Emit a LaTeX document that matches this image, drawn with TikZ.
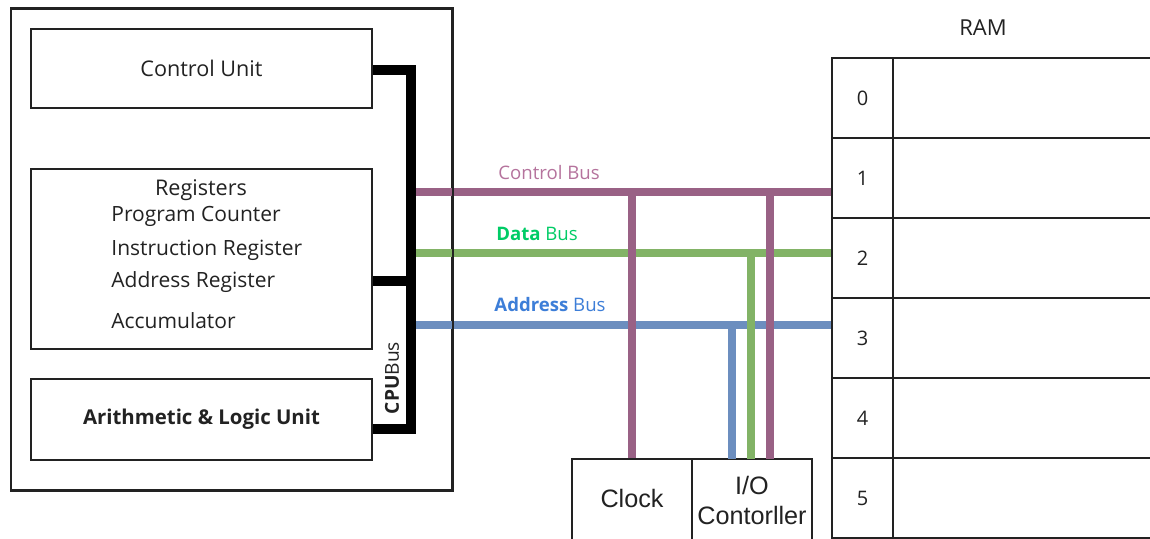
\documentclass[tikz,border=0pt]{standalone}
\usepackage{fontspec}
\setmainfont{Open Sans}
\newfontfamily\arialf{Liberation Sans}
\definecolor{busP}{HTML}{996185}
\definecolor{busG}{HTML}{82B366}
\definecolor{busB}{HTML}{6C8EBF}
\definecolor{txP}{HTML}{B5739D}
\definecolor{txG}{HTML}{00CC66}
\definecolor{txB}{HTML}{3D7ED8}
\definecolor{ink}{HTML}{222222}
\begin{document}
\begin{tikzpicture}[x=0.5pt,y=-0.5pt,
  box/.style={draw=ink,line width=0.75pt,rectangle,inner sep=0pt,text=ink},
  cbus/.style={line width=4.6pt,black,line join=miter},
  ctlbus/.style={line width=4.3pt,busP},
  datbus/.style={line width=4.3pt,busG},
  adrbus/.style={line width=4.3pt,busB},
  lbl/.style={inner sep=0pt,text=ink,font=\fontsize{10.5pt}{12pt}\selectfont},
  buslbl/.style={inner sep=0pt,font=\fontsize{9.3pt}{11pt}\selectfont}]
\clip (0,0) rectangle (1150,539);
\useasboundingbox (0,0) rectangle (1150,539);
\fill[white] (0,0) rectangle (1150,539);

% boxes
\node[box,minimum width=220.5pt,minimum height=240.5pt] (cpu) at (231.5,249.5) {};
\node[box,minimum width=170.5pt,minimum height=39.5pt,font=\fontsize{10.8pt}{12pt}\selectfont] (cu) at (201.5,68.5) {Control Unit};
\node[box,minimum width=170.5pt,minimum height=90pt] (reg) at (201.5,259) {};
\node[box,minimum width=170.5pt,minimum height=40.5pt,font=\fontsize{10.2pt}{12pt}\selectfont\bfseries] (alu) at (201.5,419.5) {Arithmetic \& Logic Unit};

\node[lbl,font=\fontsize{10.8pt}{12pt}\selectfont] (regt) at (201,190) {Registers};
\node[lbl,anchor=west] (pc) at (111,216.5) {Program Counter};
\node[lbl,anchor=west] (ir) at (111,250.5) {Instruction Register};
\node[lbl,anchor=west] (ar) at (111,282.5) {Address Register};
\node[lbl,anchor=west] (acc) at (111,321) {Accumulator};

% clock and io
\node[box,minimum width=60pt,minimum height=41pt,font=\arialf\fontsize{12.6pt}{14pt}\selectfont] (clk) at (632,500) {};
\node[inner sep=0pt,text=ink,font=\arialf\fontsize{12.6pt}{14pt}\selectfont] (clkt) at (632,498) {Clock};
\node[box,minimum width=60pt,minimum height=41pt] (io) at (752,500) {};
\node[inner sep=0pt,text=ink,font=\arialf\fontsize{12.6pt}{14pt}\selectfont] (iot1) at (752,485) {I/O};
\node[inner sep=0pt,text=ink,font=\arialf\fontsize{12.6pt}{14pt}\selectfont] (iot2) at (752,515) {Contorller};

% RAM
\node[inner sep=0pt,text=ink,font=\fontsize{11pt}{12pt}\selectfont] (ramt) at (983,28) {RAM};
\foreach \i in {0,...,5}{
  \node[box,minimum width=30.5pt,minimum height=40pt,font=\fontsize{10pt}{12pt}\selectfont] (n\i) at (862.5,{98+80*\i}) {\i};
  \node[box,minimum width=140pt,minimum height=40pt] (d\i) at (1033,{98+80*\i}) {};
}

% bus coordinates
\coordinate (cT) at (411,70);
\coordinate (cR) at (411,281);
\coordinate (cB) at (411,429);
\coordinate (ctlL) at (411,192);
\coordinate (datL) at (411,253);
\coordinate (adrL) at (411,325);
\coordinate (ioA) at (732,459);
\coordinate (ioD) at (751,459);
\coordinate (ioC) at (770,459);

% horizontal buses
\draw[ctlbus] (ctlL) -- (n1.west |- ctlL);
\draw[datbus] (datL) -- (n2.west |- datL);
\draw[adrbus] (adrL) -- (n3.west |- adrL);
% vertical drops
\draw[adrbus] (ioA) -- (ioA |- adrL);
\draw[datbus] (ioD) -- (ioD |- datL);
\draw[ctlbus] (clk.north) -- (clk.north |- ctlL);
\draw[ctlbus] (ioC) -- (ioC |- ctlL);

% CPU bus
\draw[cbus] (cu.east |- cT) -- (cT) -- (cB) -- (alu.east |- cB);
\draw[cbus] (reg.east |- cR) -- (cR);
\node[inner sep=0pt,rotate=90,text=ink,font=\fontsize{9.6pt}{11pt}\selectfont] (cpub) at (392,378) {\textbf{CPU}Bus};

% cpu border on top
\draw[draw=ink,line width=0.75pt] (cpu.north west) rectangle (cpu.south east);

% bus labels
\node[buslbl,text=txP] (ctlt) at (549,173) {Control Bus};
\node[buslbl,text=txG] (datt) at (537,234) {\textbf{Data} Bus};
\node[buslbl,text=txB] (adrt) at (550,305) {\textbf{Address} Bus};
\end{tikzpicture}
\end{document}
